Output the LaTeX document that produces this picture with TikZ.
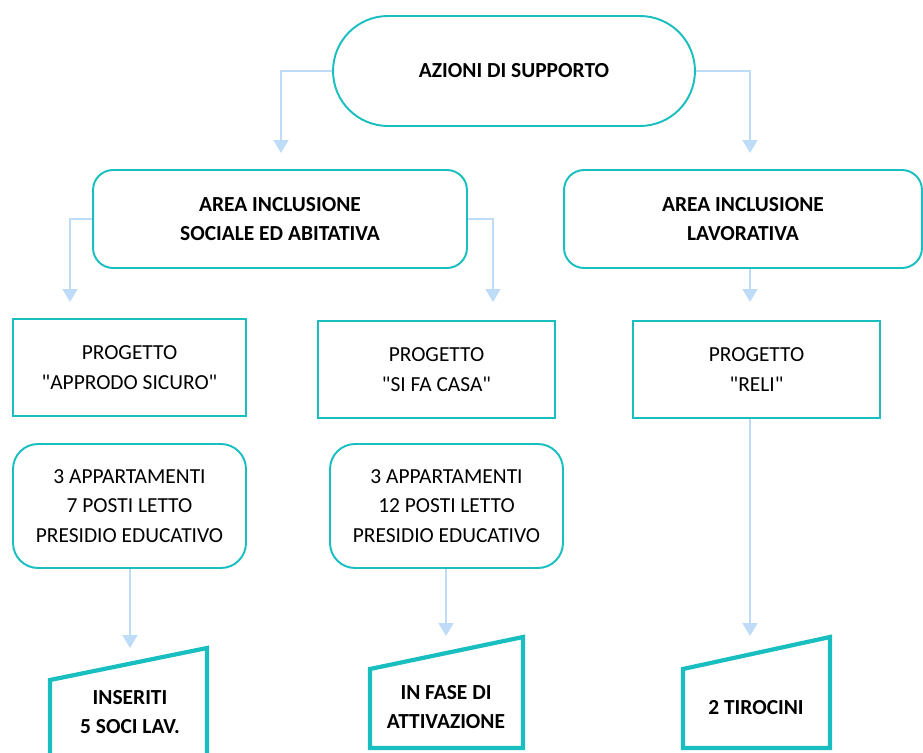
\documentclass[tikz,border=0pt]{standalone}
\usepackage{fontspec}
\setmainfont{Carlito}
\usepackage{tikz}
\usetikzlibrary{arrows.meta}

\definecolor{teal}{RGB}{24,190,192}
\definecolor{sky}{RGB}{190,220,248}

\begin{document}
\begin{tikzpicture}[x=0.02cm, y=-0.02cm,
	box/.style={draw=teal, line width=1.1pt, align=center, inner sep=0pt,
		font=\fontsize{12.2}{17}\selectfont},
	head/.style={box, font=\fontsize{12.2}{17}\selectfont\bfseries},
	flow/.style={draw=sky, line width=0.9pt, -{Triangle[width=0.3cm, length=0.26cm]}},
	slant/.style={draw=teal, line width=2.4pt, line join=miter},
	tag/.style={align=center, font=\fontsize{12.2}{17}\selectfont\bfseries}]
	\useasboundingbox (0, 0) rectangle (923, 753);

	\node[head, rounded corners=1.1cm, minimum width=7.24cm, minimum height=2.2cm] (top) at (514, 71) {AZIONI DI SUPPORTO};
	\node[head, rounded corners=0.4cm, minimum width=7.48cm, minimum height=1.96cm] (soc) at (280, 219) {AREA INCLUSIONE\\SOCIALE ED ABITATIVA};
	\node[head, rounded corners=0.4cm, minimum width=7.16cm, minimum height=1.96cm] (lav) at (743, 219) {AREA INCLUSIONE\\LAVORATIVA};

	\node[box, minimum width=4.66cm, minimum height=1.94cm] (p1) at (129.5, 367.5) {PROGETTO\\\textquotedbl APPRODO SICURO\textquotedbl};
	\node[box, minimum width=4.74cm, minimum height=1.94cm] (p2) at (436.5, 369.5) {PROGETTO\\\textquotedbl SI FA CASA\textquotedbl};
	\node[box, minimum width=4.94cm, minimum height=1.94cm] (p3) at (756.5, 369.5) {PROGETTO\\\textquotedbl RELI\textquotedbl};

	\node[box, rounded corners=0.5cm, minimum width=4.66cm, minimum height=2.48cm] (d1) at (129.5, 506) {3 APPARTAMENTI\\7 POSTI LETTO\\PRESIDIO EDUCATIVO};
	\node[box, rounded corners=0.5cm, minimum width=4.66cm, minimum height=2.48cm] (d2) at (446.5, 506) {3 APPARTAMENTI\\12 POSTI LETTO\\PRESIDIO EDUCATIVO};

	\draw[slant] (50, 775) -- (50, 680) -- (207, 648) -- (207, 775);
	\draw[slant] (370, 748) -- (370, 669) -- (523, 637) -- (523, 748) -- cycle;
	\draw[slant] (683, 748) -- (683, 669) -- (830, 637) -- (830, 748) -- cycle;
	\node[tag] (r1) at (130, 712) {INSERITI\\5 SOCI LAV.};
	\node[tag] (r2) at (446, 707) {IN FASE DI\\ATTIVAZIONE};
	\node[tag] (r3) at (756, 708) {2 TIROCINI};

	\coordinate (a1) at (281, 153);
	\coordinate (a2) at (750, 153);
	\coordinate (a3) at (70, 302);
	\coordinate (a4) at (493, 302);
	\coordinate (a5) at (750, 302);
	\coordinate (t1) at (130, 648);
	\coordinate (t2) at (446, 636);
	\coordinate (t3) at (750, 636);

	\draw[flow] (top.west) -| (a1);
	\draw[flow] (top.east) -| (a2);
	\draw[flow] (soc.west) -| (a3);
	\draw[flow] (soc.east) -| (a4);
	\draw[flow] (lav.south -| a5) -- (a5);
	\draw[flow] (d1.south -| t1) -- (t1);
	\draw[flow] (d2.south -| t2) -- (t2);
	\draw[flow] (p3.south -| t3) -- (t3);
\end{tikzpicture}
\end{document}
